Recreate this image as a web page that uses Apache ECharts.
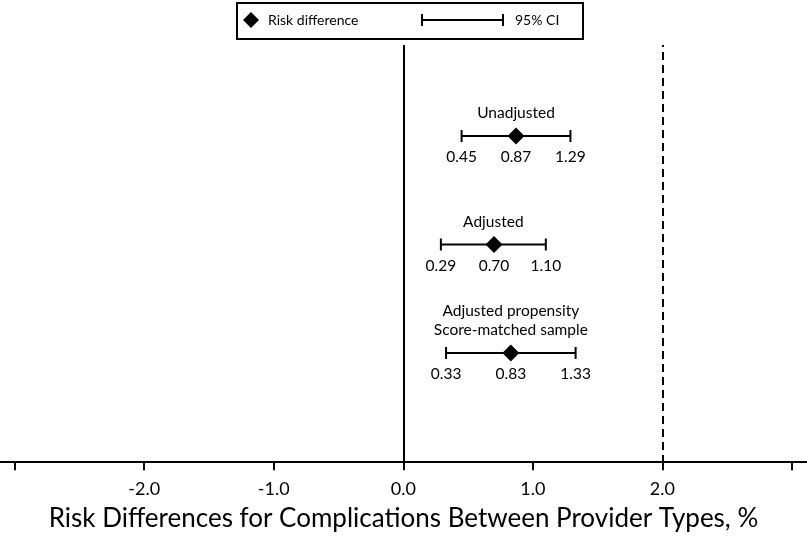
<!DOCTYPE html>
<html><head><meta charset="utf-8">
<script src="https://cdn.jsdelivr.net/npm/echarts@6/dist/echarts.min.js"></script>
<style>html,body{margin:0;padding:0;background:#fff}#c{width:807px;height:537px}</style>
</head><body><div id="c"></div>
<script>
const groups = ['Unadjusted', 'Adjusted', 'Adjusted propensity\nScore-matched sample'];
const riskDiff = [0.87, 0.70, 0.83];
const ciLower = [0.45, 0.29, 0.33];
const ciUpper = [1.29, 1.10, 1.33];
const rowPos = [3, 2, 1];
const tickValues = [-3, -2, -1, 0, 1, 2, 3];
const labelValues = [-2, -1, 0, 1, 2];
const refLines = [0, 2];
const xTitle = 'Risk Differences for Complications Between Provider Types, %';

const FONT = 'Lato';
const chart = echarts.init(document.getElementById('c'));
const rows = groups.map((g, i) => [riskDiff[i], rowPos[i], ciLower[i], ciUpper[i], g]);

chart.setOption({
  animation: false,
  grid: { left: 0, right: 0, top: 45, bottom: 68 },
  xAxis: {
    type: 'value', min: -3.113, max: 3.116,
    splitLine: { show: false },
    axisLine: { lineStyle: { color: '#000', width: 2 } },
    axisTick: { customValues: tickValues, length: 9, lineStyle: { color: '#000', width: 2 } },
    axisLabel: { customValues: labelValues, formatter: v => Number(v).toFixed(1), color: '#000',
      fontFamily: FONT, fontSize: 18, margin: 17 },
    name: xTitle, nameLocation: 'middle', nameGap: 43,
    nameTextStyle: { color: '#000', fontFamily: FONT, fontSize: 26 }
  },
  yAxis: { type: 'value', min: -0.015, max: 3.84, show: false },
  series: [
    {
      type: 'custom',
      data: rows,
      renderItem: function (params, api) {
        const y = api.value(1);
        const p0 = api.coord([api.value(2), y]);
        const p1 = api.coord([api.value(3), y]);
        const pm = api.coord([api.value(0), y]);
        const cap = 6;
        const ls = { stroke: '#000', lineWidth: 2 };
        const fmt = v => v.toFixed(2);
        const name = groups[params.dataIndex];
        const tf = '15.5px ' + FONT;
        return {
          type: 'group',
          children: [
            { type: 'line', shape: { x1: p0[0], y1: p0[1], x2: p1[0], y2: p1[1] }, style: ls },
            { type: 'line', shape: { x1: p0[0], y1: p0[1] - cap, x2: p0[0], y2: p0[1] + cap }, style: ls },
            { type: 'line', shape: { x1: p1[0], y1: p1[1] - cap, x2: p1[0], y2: p1[1] + cap }, style: ls },
            { type: 'text', x: p0[0], y: p0[1] + 21, style: { text: fmt(api.value(2)), fill: '#000', font: tf, align: 'center', verticalAlign: 'middle' } },
            { type: 'text', x: p1[0], y: p1[1] + 21, style: { text: fmt(api.value(3)), fill: '#000', font: tf, align: 'center', verticalAlign: 'middle' } },
            { type: 'text', x: pm[0], y: pm[1] + 21, style: { text: fmt(api.value(0)), fill: '#000', font: tf, align: 'center', verticalAlign: 'middle' } },
            { type: 'text', x: (p0[0] + p1[0]) / 2, y: pm[1] - 13.5, style: { text: name, fill: '#000', font: tf, align: 'center', verticalAlign: 'bottom', lineHeight: 19 } }
          ]
        };
      },
      z: 3
    },
    {
      type: 'scatter',
      data: rows.map(r => [r[0], r[1]]),
      symbol: 'diamond', symbolSize: [17, 17],
      itemStyle: { color: '#000', opacity: 1 },
      z: 5,
      markLine: {
        silent: true, symbol: 'none', label: { show: false },
        data: refLines.map((v, i) => ({ xAxis: v, lineStyle: { color: '#000', width: 2, type: i === 0 ? 'solid' : [8, 5] } }))
      }
    }
  ],
  graphic: [
    { type: 'rect', shape: { x: 237, y: 3, width: 346, height: 36 }, style: { fill: '#fff', stroke: '#000', lineWidth: 2 } },
    { type: 'polygon', shape: { points: [[251, 12], [259, 20], [251, 28], [243, 20]] }, style: { fill: '#000' } },
    { type: 'text', x: 268, y: 20, style: { text: 'Risk difference', font: '14px ' + FONT, fill: '#000', verticalAlign: 'middle' } },
    { type: 'line', shape: { x1: 422, y1: 20, x2: 503, y2: 20 }, style: { stroke: '#000', lineWidth: 2 } },
    { type: 'line', shape: { x1: 422, y1: 14, x2: 422, y2: 26 }, style: { stroke: '#000', lineWidth: 2 } },
    { type: 'line', shape: { x1: 503, y1: 14, x2: 503, y2: 26 }, style: { stroke: '#000', lineWidth: 2 } },
    { type: 'text', x: 515, y: 20, style: { text: '95% CI', font: '14px ' + FONT, fill: '#000', verticalAlign: 'middle' } }
  ]
});
</script></body></html>
